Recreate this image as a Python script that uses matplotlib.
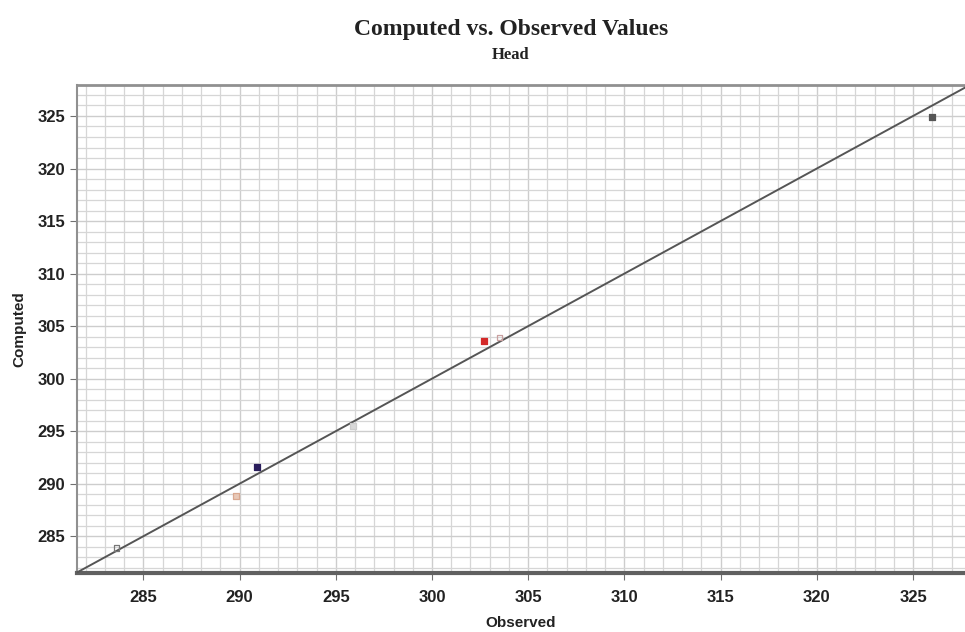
import matplotlib
matplotlib.use("Agg")
import matplotlib.pyplot as plt
import numpy as np
from matplotlib.ticker import MultipleLocator

observed = [283.6, 289.8, 290.9, 295.9, 302.7, 303.5, 326.0]
computed = [283.9, 288.8, 291.6, 295.5, 303.6, 303.9, 324.9]
face_colors = ["none", "#e8c9b8", "#2a1e5c", "#d8d8d8", "#d42a2a", "none", "#555555"]
edge_colors = ["#777777", "#d9a890", "#2a1e5c", "#cccccc", "#d42a2a", "#c9a0a0", "#555555"]
xticks = [285, 290, 295, 300, 305, 310, 315, 320, 325]
yticks = [285, 290, 295, 300, 305, 310, 315, 320, 325]
xlim = (281.55, 327.7)
ylim = (281.5, 327.95)

fig = plt.figure(figsize=(9.65, 6.32), dpi=100)
ax = fig.add_axes([77/965, 1-573/632, 1-77/965, (573-85)/632])

ax.set_xlim(*xlim)
ax.set_ylim(*ylim)
ax.set_xticks(xticks)
ax.set_yticks(yticks)
ax.xaxis.set_minor_locator(MultipleLocator(1))
ax.yaxis.set_minor_locator(MultipleLocator(1))
ax.grid(which="major", color="#cdcdcd", linewidth=1.0)
ax.grid(which="minor", color="#d6d6d6", linewidth=0.9)
ax.set_axisbelow(True)

# 1:1 line
lo = min(xlim[0], ylim[0]) - 5
hi = max(xlim[1], ylim[1]) + 5
ax.plot([lo, hi], [lo, hi], color="#555555", linewidth=1.4, zorder=3)

for x, y, fc, ec in zip(observed, computed, face_colors, edge_colors):
    ax.scatter([x], [y], marker="s", s=16, facecolors=fc, edgecolors=ec,
               linewidths=0.9, zorder=4)

ax.spines["right"].set_visible(False)
ax.spines["top"].set_color("#909090")
ax.spines["top"].set_linewidth(2.0)
ax.spines["left"].set_color("#909090")
ax.spines["left"].set_linewidth(1.5)
ax.spines["bottom"].set_color("#606060")
ax.spines["bottom"].set_linewidth(3.0)

ax.tick_params(which="minor", length=0)
ax.tick_params(axis="x", which="major", pad=7)
ax.tick_params(which="major", direction="out", length=5, color="#707070",
               labelcolor="#222222")
for lab in ax.get_xticklabels() + ax.get_yticklabels():
    lab.set_fontfamily("Liberation Sans")
    lab.set_fontweight("bold")
    lab.set_fontsize(12)

ax.set_xlabel("Observed", fontsize=11, fontweight="bold", family="Liberation Sans", labelpad=8, color="#222222")
ax.set_ylabel("Computed", fontsize=11, fontweight="bold", family="Liberation Sans", color="#222222",
              va="center")
ax.yaxis.set_label_coords(-0.065, 0.5)

fig.text(511/965, 1-30/632, "Computed vs. Observed Values", ha="center", va="center",
         fontsize=17, fontweight="bold", family="Liberation Serif", color="#222222")
fig.text(511/965, 1-55/632, "Head", ha="center", va="center",
         fontsize=12, fontweight="bold", family="Liberation Serif", color="#222222")

fig.savefig("out.png", dpi=100)
